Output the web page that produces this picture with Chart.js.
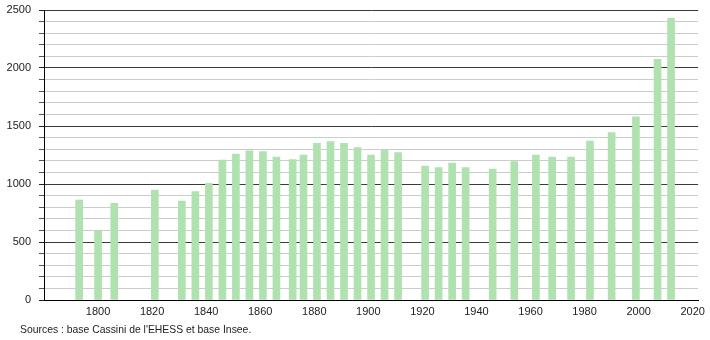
<!DOCTYPE html>
<html>
<head>
<meta charset="utf-8">
<script src="https://cdn.jsdelivr.net/npm/chart.js@4/dist/chart.umd.min.js"></script>
<style>
  html, body { margin: 0; padding: 0; background: #fff; }
  #wrap { width: 710px; height: 340px; position: relative; }
</style>
</head>
<body>
<div id="wrap"><canvas id="c" width="710" height="340"></canvas></div>
<script>
const years = [1793, 1800, 1806, 1821, 1831, 1836, 1841, 1846, 1851, 1856, 1861, 1866, 1872, 1876, 1881, 1886, 1891, 1896, 1901, 1906, 1911, 1921, 1926, 1931, 1936, 1946, 1954, 1962, 1968, 1975, 1982, 1990, 1999, 2007, 2012];
const population = [862, 592, 833, 948, 853, 935, 1005, 1207, 1259, 1287, 1279, 1233, 1210, 1250, 1350, 1365, 1350, 1313, 1250, 1290, 1270, 1155, 1141, 1180, 1141, 1129, 1193, 1250, 1233, 1233, 1371, 1443, 1580, 2075, 2428];
const xTickValues = [1800, 1820, 1840, 1860, 1880, 1900, 1920, 1940, 1960, 1980, 2000, 2020];
const yLabelValues = [0, 500, 1000, 1500, 2000, 2500];
const sourceText = "Sources : base Cassini de l'EHESS et base Insee.";

const FONT = "'Liberation Sans', Arial, sans-serif";

const sourcePlugin = {
  id: 'sourceText',
  afterDraw(chart) {
    const ctx = chart.ctx;
    ctx.save();
    ctx.font = '10.4px ' + FONT;
    ctx.fillStyle = '#222';
    ctx.textBaseline = 'middle';
    ctx.textAlign = 'left';
    ctx.fillText(sourceText, 20, 330);
    ctx.restore();
  }
};

new Chart(document.getElementById('c'), {
  type: 'bar',
  data: {
    datasets: [{
      data: years.map((yr, i) => ({ x: yr, y: population[i] })),
      backgroundColor: '#afe2af',
      borderWidth: 0,
      barThickness: 7
    }]
  },
  options: {
    responsive: false,
    animation: false,
    layout: { padding: { top: 10, right: 9, left: 0, bottom: 0 } },
    plugins: { legend: { display: false }, tooltip: { enabled: false } },
    scales: {
      x: {
        type: 'linear',
        min: 1780,
        max: 2022,
        offset: false,
        afterBuildTicks: (scale) => {
          scale.ticks = xTickValues.map(v => ({ value: v }));
        },
        afterFit: (scale) => { scale.height = 40; },
        grid: { display: true, offset: false, color: 'rgba(0,0,0,0)', drawTicks: false },
        border: { display: true, color: '#000', width: 1 },
        ticks: {
          padding: 5,
          color: '#222',
          font: { family: FONT, size: 11 },
          maxRotation: 0,
          autoSkip: false,
          callback: (v) => String(v)
        }
      },
      y: {
        min: 0,
        max: 2500,
        afterFit: (scale) => {
          scale.width = 44;
          scale.paddingTop = 0;
          scale.paddingBottom = 0;
        },
        ticks: {
          stepSize: 100,
          autoSkip: false,
          padding: 8,
          color: '#222',
          font: { family: FONT, size: 11 },
          callback: (v) => yLabelValues.includes(v) ? String(v) : ''
        },
        grid: {
          color: (ctx) => (ctx.tick && ctx.tick.value % 500 === 0) ? '#3a3a3a' : '#cccccc',
          tickColor: (ctx) => (ctx.tick && ctx.tick.value % 500 === 0) ? '#222' : '#555',
          tickLength: 5,
          lineWidth: 1
        },
        border: { display: true, color: '#000', width: 1 }
      }
    }
  },
  plugins: [sourcePlugin]
});
</script>
</body>
</html>
